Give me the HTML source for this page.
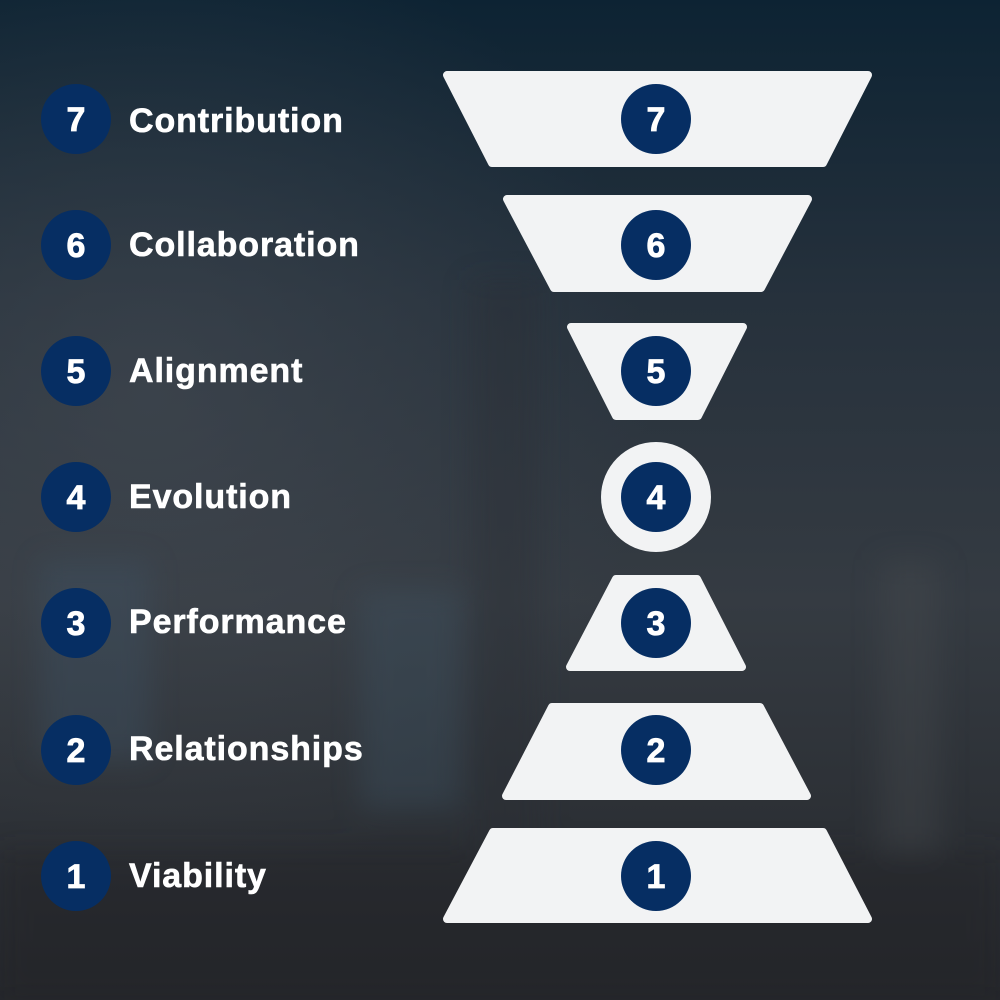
<!DOCTYPE html>
<html><head><meta charset="utf-8"><style>
html,body{margin:0;padding:0;}
body{width:1000px;height:1000px;overflow:hidden;background:#2b3038;}
svg{display:block}
</style></head><body>
<svg width="1000" height="1000" viewBox="0 0 1000 1000" xmlns="http://www.w3.org/2000/svg">
<defs>
<linearGradient id="bg" x1="0" y1="0" x2="0" y2="1">
<stop offset="0" stop-color="#0d2333"/>
<stop offset="0.3" stop-color="#26313c"/>
<stop offset="0.6" stop-color="#353b42"/>
<stop offset="1" stop-color="#25272b"/>
</linearGradient>
<radialGradient id="glow" cx="0.15" cy="0.4" r="0.5">
<stop offset="0" stop-color="#4a5058" stop-opacity="0.5"/>
<stop offset="1" stop-color="#4a5058" stop-opacity="0"/>
</radialGradient>
<filter id="blur"><feGaussianBlur stdDeviation="14"/></filter>
</defs>
<rect width="1000" height="1000" fill="url(#bg)"/>
<rect width="1000" height="1000" fill="url(#glow)"/>
<g filter="url(#blur)" opacity="0.35">
<rect x="40" y="560" width="110" height="200" fill="#3d5366"/>
<rect x="360" y="590" width="100" height="220" fill="#3c5263"/>
<rect x="470" y="280" width="70" height="600" fill="#2a2f35"/>
<rect x="880" y="560" width="60" height="300" fill="#474b50"/>
<rect x="0" y="850" width="1000" height="150" fill="#222428"/>
</g>
<g fill="#f2f3f4" stroke="#f2f3f4" stroke-width="8" stroke-linejoin="round">
<polygon points="447,75 868,75 823,163 492,163"/>
<polygon points="507,199 808,199 761,288 554,288"/>
<polygon points="571,327 743,327 698,416 616,416"/>
<polygon points="616,579 697,579 742,667 570,667"/>
<polygon points="552,707 760,707 807,796 506,796"/>
<polygon points="493,832 823,832 868,919 447,919"/>
</g>
<circle cx="656" cy="497" r="55" fill="#f2f3f4"/>
<g fill="#062e63">
<circle cx="656" cy="119" r="35"/><circle cx="656" cy="245" r="35"/><circle cx="656" cy="371" r="35"/>
<circle cx="656" cy="497" r="35"/><circle cx="656" cy="623" r="35"/><circle cx="656" cy="750" r="35"/>
<circle cx="656" cy="876" r="35"/>
<circle cx="76" cy="119" r="35"/><circle cx="76" cy="245" r="35"/><circle cx="76" cy="371" r="35"/>
<circle cx="76" cy="497" r="35"/><circle cx="76" cy="623" r="35"/><circle cx="76" cy="750" r="35"/>
<circle cx="76" cy="876" r="35"/>
</g>
<g fill="#ffffff" font-family="Liberation Sans, sans-serif" font-weight="bold" font-size="34" text-anchor="middle" stroke="#ffffff" stroke-width="0.8">
<text x="656" y="131">7</text><text x="656" y="257">6</text><text x="656" y="383">5</text>
<text x="656" y="509">4</text><text x="656" y="635">3</text><text x="656" y="762">2</text><text x="656" y="888">1</text>
<text x="76" y="131">7</text><text x="76" y="257">6</text><text x="76" y="383">5</text>
<text x="76" y="509">4</text><text x="76" y="635">3</text><text x="76" y="762">2</text><text x="76" y="888">1</text>
</g>
<g fill="#ffffff" font-family="Liberation Sans, sans-serif" font-weight="bold" font-size="34" letter-spacing="0.9" stroke="#ffffff" stroke-width="0.6">
<text x="129" y="132">Contribution</text>
<text x="129" y="256">Collaboration</text>
<text x="129" y="382">Alignment</text>
<text x="129" y="508">Evolution</text>
<text x="129" y="633">Performance</text>
<text x="129" y="760">Relationships</text>
<text x="129" y="887">Viability</text>
</g>
</svg>
</body></html>
